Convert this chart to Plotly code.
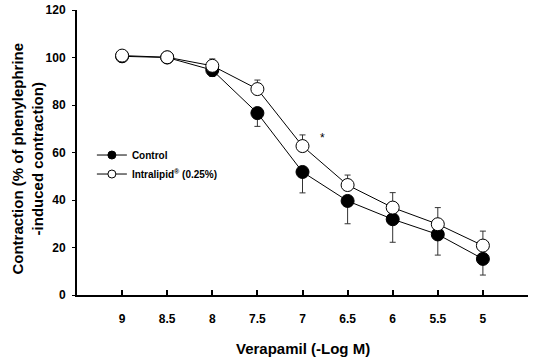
import plotly.graph_objects as go

# Data
doses = ["9", "8.5", "8", "7.5", "7", "6.5", "6", "5.5", "5"]
control = [100.5, 100.0, 94.7, 76.6, 51.8, 39.6, 31.9, 25.5, 15.2]
control_sem = [0.0, 0.0, 2.7, 5.6, 8.8, 9.6, 9.7, 8.7, 6.8]
intralipid = [100.8, 100.1, 96.5, 86.7, 62.7, 46.3, 36.8, 29.8, 20.8]
intralipid_sem = [0.0, 0.0, 2.9, 3.8, 4.7, 4.2, 6.3, 7.0, 6.1]
y_ticks = [0, 20, 40, 60, 80, 100, 120]

xi = list(range(len(doses)))
FONT = "Arial, Liberation Sans, sans-serif"

fig = go.Figure()

fig.add_trace(go.Scatter(
    x=xi, y=control, mode="lines+markers", showlegend=False,
    line=dict(color="black", width=1),
    marker=dict(symbol="circle", size=13, color="black", line=dict(color="black", width=1)),
    error_y=dict(type="data", symmetric=False, array=[0]*len(doses), arrayminus=control_sem,
                 color="#333", thickness=1, width=3),
))
fig.add_trace(go.Scatter(
    x=xi, y=intralipid, mode="lines+markers", showlegend=False,
    line=dict(color="black", width=1),
    marker=dict(symbol="circle", size=13, color="white", line=dict(color="black", width=1)),
    error_y=dict(type="data", symmetric=False, array=intralipid_sem, arrayminus=[0]*len(doses),
                 color="#333", thickness=1, width=3),
))
# legend entries
fig.add_trace(go.Scatter(
    x=[None], y=[None], mode="lines+markers", name="Control",
    line=dict(color="black", width=1),
    marker=dict(symbol="circle", size=8, color="black", line=dict(color="black", width=1)),
))
fig.add_trace(go.Scatter(
    x=[None], y=[None], mode="lines+markers", name="Intralipid<sup>®</sup> (0.25%)",
    line=dict(color="black", width=1),
    marker=dict(symbol="circle", size=8, color="white", line=dict(color="black", width=1)),
))

fig.add_annotation(x=4.45, y=66, text="*", showarrow=False,
                   font=dict(family=FONT, size=12, color="black"))

# axis titles as annotations for exact placement
fig.add_annotation(xref="paper", yref="paper", x=0.5, y=-0.186, xanchor="center", yanchor="middle",
                   text="Verapamil (-Log M)", showarrow=False,
                   font=dict(size=15, family=FONT, weight="bold", color="black"))
fig.add_annotation(xref="paper", yref="paper", x=-0.11, y=0.48, xanchor="center", yanchor="middle",
                   text="Contraction (% of phenylephrine<br>-induced contraction)", showarrow=False,
                   textangle=-90,
                   font=dict(size=15, family=FONT, weight="bold", color="black"))

fig.update_layout(
    width=533, height=363,
    margin=dict(l=77, r=5, t=10, b=68),
    paper_bgcolor="white", plot_bgcolor="white",
    font=dict(family=FONT, color="black"),
    legend=dict(x=0.033, y=0.542, xanchor="left", yanchor="top",
                bgcolor="rgba(0,0,0,0)", font=dict(size=10, family=FONT, weight="bold"),
                tracegroupgap=0, itemwidth=30),
    xaxis=dict(
        range=[-1, 9], tickmode="array", tickvals=xi + [9], ticktext=doses + [""],
        ticks="inside", ticklen=5, tickwidth=2, tickcolor="black",
        showline=True, linecolor="black", linewidth=2, showgrid=False, zeroline=False,
        tickfont=dict(size=12, family=FONT, weight="bold"), ticklabelstandoff=12,
        automargin=False,
    ),
    yaxis=dict(
        range=[0, 120], tickvals=y_ticks,
        ticks="outside", ticklen=3, tickwidth=1, tickcolor="black",
        showline=True, linecolor="black", linewidth=2, showgrid=False, zeroline=False,
        tickfont=dict(size=12, family=FONT, weight="bold"), ticklabelstandoff=4,
        automargin=False,
    ),
)

fig.write_html("out.html", config={"displayModeBar": False},
               post_script="document.body.style.margin='0';document.body.style.overflow='hidden';")
